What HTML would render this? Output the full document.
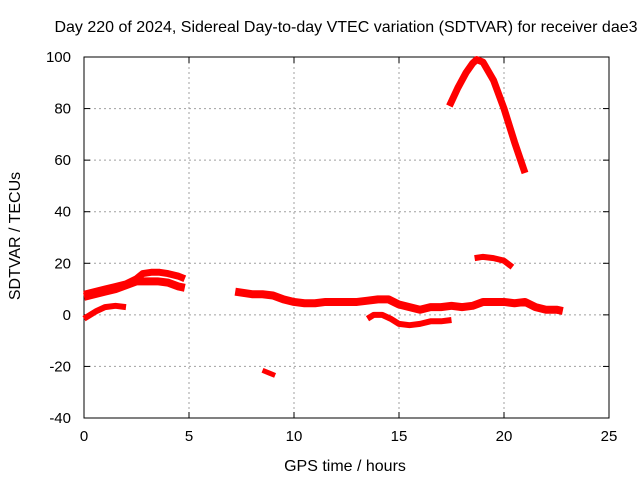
<!DOCTYPE html>
<html><head><meta charset="utf-8"><style>
body{margin:0;background:#fff;font-family:"Liberation Sans",sans-serif}
svg text{font-family:"Liberation Sans",sans-serif;font-size:15px;fill:#000}
svg text.ttl{font-size:16px}
</style></head><body>
<svg id="c" width="640" height="480"></svg>
<script>
const xTicks=[0,5,10,15,20,25];
const yTicks=[-40,-20,0,20,40,60,80,100];
const arcUpperH=[0,0.5,1,1.5,2,2.5,3,3.5,4,4.5,4.8];
const arcUpperV=[7,8,9,10,11.5,13,13,13,12.5,11,10.5];
const arcUpper2H=[0,0.5,1,1.5,2,2.5,2.8,3.2,3.6,4,4.5,4.8];
const arcUpper2V=[8,9,10,11,12,14,16,16.5,16.5,16,15,14];
const arcLowH=[0,0.3,0.6,1,1.5,2];
const arcLowV=[-1.5,0,1.5,3,3.5,3];
const arcMidH=[7.2,7.6,8,8.5,9,9.5,10,10.5,11,11.5,12,12.5,13,13.5,14,14.5,15,15.5,16,16.5,17,17.5,18,18.5,19,19.5,20,20.5,21,21.5,22,22.5,22.8];
const arcMidV=[9,8.5,8,8,7.5,6,5,4.5,4.5,5,5,5,5,5.5,6,6,4,3,2,3,3,3.5,3,3.5,5,5,5,4.5,5,3,2,2,1.5];
const arcNegH=[13.5,13.8,14.2,14.6,15,15.5,16,16.5,17,17.5];
const arcNegV=[-1.5,0,0,-1.5,-3.5,-4,-3.5,-2.5,-2.5,-2];
const arcDipH=[8.5,8.8,9.1];
const arcDipV=[-21.5,-22.5,-23.5];
const arcPeakH=[17.4,17.8,18.2,18.5,18.7,19,19.5,20,20.5,21];
const arcPeakV=[81,88,94,97.5,99,98,91,80,67,55];
const arcHumpH=[18.6,19,19.5,20,20.4];
const arcHumpV=[22,22.5,22,21,18.5];
const X0=84,X1=609,Y0=418,Y1=57;
const sx=h=>X0+(h-0)/25*(X1-X0);
const sy=v=>Y0-(v+40)/140*(Y0-Y1);
const NS="http://www.w3.org/2000/svg",svg=document.getElementById('c');
function mk(t,a,txt){const e=document.createElementNS(NS,t);for(const k in a)e.setAttribute(k,a[k]);if(txt!==undefined)e.textContent=txt;svg.appendChild(e);return e;}
xTicks.forEach(t=>{
 if(t>0&&t<25){const g=mk('line',{x1:sx(t),x2:sx(t),y1:Y1,y2:Y0,stroke:'#a0a0a0','stroke-dasharray':'2,3'});
 
 }
 const l=mk('text',{x:sx(t),y:Y0+23,'text-anchor':'middle'},t);
 
 
 mk('line',{x1:sx(t),x2:sx(t),y1:Y0,y2:Y0-6,stroke:'#000'});mk('line',{x1:sx(t),x2:sx(t),y1:Y1,y2:Y1+6,stroke:'#000'});
});
yTicks.forEach(t=>{
 if(t>-40&&t<100){const g=mk('line',{x1:X0,x2:X1,y1:sy(t),y2:sy(t),stroke:'#a0a0a0','stroke-dasharray':'2,3'});
 
 }
 const l=mk('text',{x:X0-13,y:sy(t)+5,'text-anchor':'end'},t);
 
 
 mk('line',{x1:X0,x2:X0+6,y1:sy(t),y2:sy(t),stroke:'#000'});mk('line',{x1:X1,x2:X1-6,y1:sy(t),y2:sy(t),stroke:'#000'});
});
const fr=mk('rect',{x:X0,y:Y1,width:X1-X0,height:Y0-Y1,fill:'none',stroke:'#000'});


const arcs=[[arcUpperH,arcUpperV,8],[arcUpper2H,arcUpper2V,7],[arcLowH,arcLowV,6],[arcMidH,arcMidV,8],[arcNegH,arcNegV,6],[arcDipH,arcDipV,5],[arcPeakH,arcPeakV,7],[arcHumpH,arcHumpV,6]];
arcs.forEach(([H,V,w])=>{
 const p=mk('polyline',{points:H.map((h,i)=>sx(h)+','+sy(V[i])).join(' '),fill:'none',stroke:'#f00','stroke-width':w,'stroke-linejoin':'round'});
 
 
});
const t=mk('text',{x:346,y:32,'text-anchor':'middle',class:'ttl'},'Day 220 of 2024, Sidereal Day-to-day VTEC variation (SDTVAR) for receiver dae3');


const xt=mk('text',{x:345,y:471,'text-anchor':'middle',class:'ttl'},'GPS time / hours');


const yt=mk('text',{x:20,y:236,'text-anchor':'middle',transform:'rotate(-90 20 236)',class:'ttl'},'SDTVAR / TECUs');


</script></body></html>
